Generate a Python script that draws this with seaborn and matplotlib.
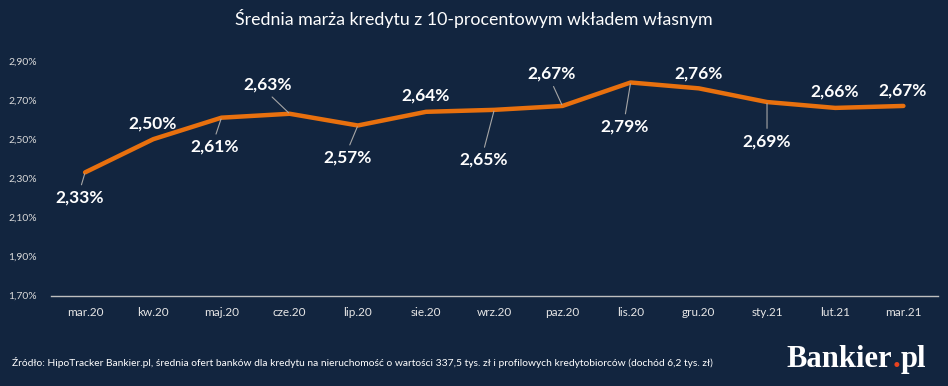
import matplotlib
matplotlib.use("Agg")
import matplotlib.pyplot as plt
import seaborn as sns
import pandas as pd

categories = ["mar.20", "kw.20", "maj.20", "cze.20", "lip.20", "sie.20", "wrz.20",
              "paz.20", "lis.20", "gru.20", "sty.21", "lut.21", "mar.21"]
values = [2.33, 2.50, 2.61, 2.63, 2.57, 2.64, 2.65, 2.67, 2.79, 2.76, 2.69, 2.66, 2.67]
y_ticks = [1.70, 1.90, 2.10, 2.30, 2.50, 2.70, 2.90]
title = "Średnia marża kredytu z 10-procentowym wkładem własnym"
source = ("Źródło: HipoTracker Bankier.pl, średnia ofert banków dla kredytu na nieruchomość o wartości "
          "337,5 tys. zł i profilowych kredytobiorców (dochód 6,2 tys. zł)")

# label placement (offset in pixels, leader line flag)
label_offsets = [(-5, -25), (-1, 16), (-7, -29), (-22, 29), (-10, -32), (0, 16), (-11, -50),
                 (-11, 32), (-6, -44), (0, 15), (0, -39), (-1, 16), (-1, 15)]
leaders = [True, False, True, True, True, False, True, True, True, False, True, False, False]

BG = "#12253f"
ORANGE = "#e8700e"
sns.set_theme(style="white")
plt.rcParams["font.family"] = ["Lato", "DejaVu Sans"]

fig = plt.figure(figsize=(9.48, 3.86), dpi=100, facecolor=BG)
ax = fig.add_axes([51 / 948, 1 - 295.5 / 386, 886.5 / 948, (295.5 - 61) / 386])
ax.set_facecolor(BG)

df = pd.DataFrame({"m": categories, "v": values})
sns.lineplot(data=df, x="m", y="v", ax=ax, color=ORANGE, linewidth=3.2, sort=False)

ax.set_xlim(-0.5, len(categories) - 0.5)
ax.set_ylim(1.70, 2.90)
ax.set_yticks(y_ticks)
ax.set_yticklabels([f"{t:.2f}%".replace(".", ",") for t in y_ticks], color="#d9d9d9", fontsize=7.5)
ax.set_xticks(range(len(categories)))
ax.set_xticklabels(categories, color="#e6e6e6", fontsize=8.5)
ax.tick_params(axis="y", length=0, pad=10)
ax.tick_params(axis="x", length=0, pad=8)
ax.set_xlabel("")
ax.set_ylabel("")
for s in ["top", "right", "left"]:
    ax.spines[s].set_visible(False)
ax.spines["bottom"].set_color("#bfbfbf")
ax.spines["bottom"].set_linewidth(1.0)
ax.grid(False)

for i, v in enumerate(values):
    dx, dy = label_offsets[i]
    above = dy > 0
    kw = {}
    if leaders[i]:
        kw["arrowprops"] = dict(arrowstyle="-", color="#a6a6a6", lw=0.8, shrinkA=1, shrinkB=1,
                                relpos=(0.5, 0.0) if above else (0.5, 1.0))
    ax.annotate(f"{v:.2f}%".replace(".", ","), xy=(i, v), xytext=(dx, dy),
                textcoords="offset pixels", ha="center", va="center",
                color="white", fontsize=12.5, fontweight="bold", **kw)

fig.text(0.5, 1 - 18 / 386, title, ha="center", va="center", color="white", fontsize=12.8)
fig.text(12 / 948, 1 - 362 / 386, source, ha="left", va="center", color="white", fontsize=7.4)

# logo: "Bankier" white, "." orange, "pl" white, placed side by side without overlap
logo_kw = dict(ha="left", va="baseline", fontsize=22, fontweight="bold", family="Liberation Serif")
base_px = 1 - 367 / 386
renderer = fig.canvas.get_renderer()
x = 786.0
for part, col in [("Bankier", "white"), (".", "#e8421e"), ("pl", "white")]:
    t = fig.text(x / 948, base_px, part, color=col, **logo_kw)
    bb = t.get_window_extent(renderer)
    x = bb.x1 + 0.6

fig.savefig("out.png", dpi=100, facecolor=BG)
